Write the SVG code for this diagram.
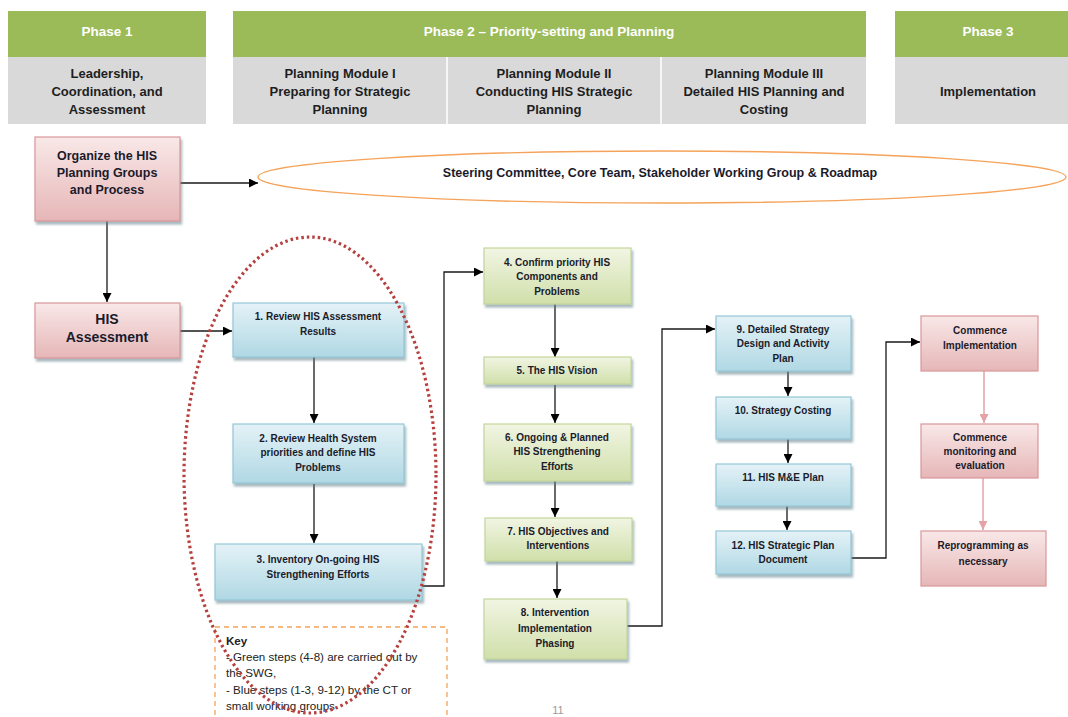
<svg xmlns="http://www.w3.org/2000/svg" width="1068" height="717" viewBox="0 0 1068 717">
<defs>
<linearGradient id="gBlue" x1="0" y1="0" x2="0" y2="1"><stop offset="0" stop-color="#e4f2f7"/><stop offset="1" stop-color="#b0d8e4"/></linearGradient>
<linearGradient id="gGreen" x1="0" y1="0" x2="0" y2="1"><stop offset="0" stop-color="#f1f5e3"/><stop offset="1" stop-color="#d0dfaa"/></linearGradient>
<linearGradient id="gPink" x1="0" y1="0" x2="0" y2="1"><stop offset="0" stop-color="#f9e8e8"/><stop offset="1" stop-color="#e6b6b7"/></linearGradient>
<filter id="sh" x="-10%" y="-10%" width="125%" height="135%"><feDropShadow dx="1.5" dy="3" stdDeviation="1" flood-color="#5f7f88" flood-opacity="0.55"/></filter>
<marker id="ah" viewBox="0 0 10 10" refX="10" refY="5" markerWidth="9" markerHeight="9" markerUnits="userSpaceOnUse" orient="auto"><path d="M0,0 L10,5 L0,10 z" fill="#000"/></marker>
<marker id="ahp" viewBox="0 0 10 10" refX="10" refY="5" markerWidth="9" markerHeight="9" markerUnits="userSpaceOnUse" orient="auto"><path d="M0,0 L10,5 L0,10 z" fill="#e3a3a6"/></marker>
<style>
.hg{fill:#9bbb59}
.hy{fill:#d9d9d9}
.ht{font-family:"Liberation Sans",Arial,sans-serif;font-weight:bold;font-size:13.5px;fill:#fff;text-anchor:middle}
.hs{font-family:"Liberation Sans",Arial,sans-serif;font-weight:bold;font-size:13px;fill:#1e1e1e;text-anchor:middle}
.blue{fill:url(#gBlue);stroke:#93c7d8;stroke-width:1.2;filter:url(#sh)}
.green{fill:url(#gGreen);stroke:#c3d69b;stroke-width:1.2;filter:url(#sh)}
.pink{fill:url(#gPink);stroke:#d9969a;stroke-width:1.2}
.pinks{fill:url(#gPink);stroke:#d9969a;stroke-width:1.2;filter:url(#sh)}
.t{font-family:"Liberation Sans",Arial,sans-serif;font-weight:bold;font-size:10px;fill:#1b1b2b;text-anchor:middle}
.tl{font-family:"Liberation Sans",Arial,sans-serif;font-weight:bold;font-size:12.5px;fill:#1b1b2b;text-anchor:middle}
.c{fill:none;stroke:#1a1a1a;stroke-width:1.3}
.cp{fill:none;stroke:#e3a3a6;stroke-width:1.5}
.k{font-family:"Liberation Sans",Arial,sans-serif;font-size:11.6px;fill:#222}
</style>
</defs>

<g id="header">
<rect class="hg" x="8" y="11" width="198" height="46"/>
<rect class="hy" x="8" y="57" width="198" height="67"/>
<text class="ht" x="107" y="36">Phase 1</text>
<text class="hs" x="107" y="78">Leadership,</text>
<text class="hs" x="107" y="96">Coordination, and</text>
<text class="hs" x="107" y="114">Assessment</text>

<rect class="hg" x="233" y="11" width="633" height="46"/>
<rect class="hy" x="233" y="57" width="633" height="67"/>
<line x1="447" y1="57" x2="447" y2="124" stroke="#fff" stroke-width="1.5"/>
<line x1="661" y1="57" x2="661" y2="124" stroke="#fff" stroke-width="1.5"/>
<text class="ht" x="549" y="36">Phase 2 – Priority-setting and Planning</text>
<text class="hs" x="340" y="78">Planning Module I</text>
<text class="hs" x="340" y="96">Preparing for Strategic</text>
<text class="hs" x="340" y="114">Planning</text>
<text class="hs" x="554" y="78">Planning Module II</text>
<text class="hs" x="554" y="96">Conducting HIS Strategic</text>
<text class="hs" x="554" y="114">Planning</text>
<text class="hs" x="764" y="78">Planning Module III</text>
<text class="hs" x="764" y="96">Detailed HIS Planning and</text>
<text class="hs" x="764" y="114">Costing</text>

<rect class="hg" x="895" y="11" width="175" height="46"/>
<rect class="hy" x="895" y="57" width="175" height="67"/>
<text class="ht" x="988" y="36">Phase 3</text>
<text class="hs" x="988" y="96">Implementation</text>
</g>

<g id="connectors">
<path class="c" d="M180,183 H258" marker-end="url(#ah)"/>
<path class="c" d="M107,221 V302" marker-end="url(#ah)"/>
<path class="c" d="M180,331 H232" marker-end="url(#ah)"/>
<path class="c" d="M314,357 V423" marker-end="url(#ah)"/>
<path class="c" d="M314,484 V543" marker-end="url(#ah)"/>
<path class="c" d="M422,586 H444 V272 H483" marker-end="url(#ah)"/>
<path class="c" d="M555,304 V357" marker-end="url(#ah)"/>
<path class="c" d="M555,385 V423" marker-end="url(#ah)"/>
<path class="c" d="M555,481 V517" marker-end="url(#ah)"/>
<path class="c" d="M557,561 V598" marker-end="url(#ah)"/>
<path class="c" d="M627,626 H662 V329 H715" marker-end="url(#ah)"/>
<path class="c" d="M788,371 V396" marker-end="url(#ah)"/>
<path class="c" d="M788,439 V463" marker-end="url(#ah)"/>
<path class="c" d="M787,506 V530" marker-end="url(#ah)"/>
<path class="c" d="M851,558 H886 V342 H920" marker-end="url(#ah)"/>
<path class="cp" d="M984,371 V423" marker-end="url(#ahp)"/>
<path class="cp" d="M983,478 V530" marker-end="url(#ahp)"/>
</g>

<g id="organize">
<rect class="pinks" x="35" y="137" width="145" height="84"/>
<text class="tl" x="107" y="160">Organize the HIS</text>
<text class="tl" x="107" y="177">Planning Groups</text>
<text class="tl" x="107" y="194">and Process</text>
</g>

<g id="steering">
<ellipse cx="662" cy="177" rx="404" ry="26" fill="none" stroke="#f5a35a" stroke-width="1.4"/>
<text class="tl" x="660" y="177">Steering Committee, Core Team, Stakeholder Working Group &amp; Roadmap</text>
</g>

<g id="assessment">
<rect class="pinks" x="35" y="303" width="145" height="55"/>
<text class="tl" x="107" y="324" style="font-size:14px">HIS</text>
<text class="tl" x="107" y="342" style="font-size:14px">Assessment</text>
</g>

<g id="s1"><rect class="blue" x="233" y="303" width="171" height="54"/>
<text class="t" x="318" y="320">1.  Review HIS Assessment</text>
<text class="t" x="318" y="335">Results</text></g>

<g id="s2"><rect class="blue" x="233" y="424" width="171" height="59"/>
<text class="t" x="318" y="442">2.  Review Health System</text>
<text class="t" x="318" y="456">priorities and define HIS</text>
<text class="t" x="318" y="471">Problems</text></g>

<g id="s3"><rect class="blue" x="215" y="544" width="207" height="56"/>
<text class="t" x="318" y="563">3.  Inventory On-going HIS</text>
<text class="t" x="318" y="578">Strengthening Efforts</text></g>

<g id="s4"><rect class="green" x="484" y="248" width="147" height="56"/>
<text class="t" x="557" y="266">4.  Confirm priority HIS</text>
<text class="t" x="557" y="280">Components and</text>
<text class="t" x="557" y="295">Problems</text></g>

<g id="s5"><rect class="green" x="484" y="357" width="147" height="27"/>
<text class="t" x="557" y="374">5.  The HIS Vision</text></g>

<g id="s6"><rect class="green" x="484" y="424" width="147" height="57"/>
<text class="t" x="557" y="441">6.  Ongoing &amp; Planned</text>
<text class="t" x="557" y="455">HIS Strengthening</text>
<text class="t" x="557" y="470">Efforts</text></g>

<g id="s7"><rect class="green" x="485" y="518" width="147" height="43"/>
<text class="t" x="558" y="535">7.  HIS Objectives and</text>
<text class="t" x="558" y="549">Interventions</text></g>

<g id="s8"><rect class="green" x="484" y="599" width="143" height="60"/>
<text class="t" x="555" y="616">8.  Intervention</text>
<text class="t" x="555" y="632">Implementation</text>
<text class="t" x="555" y="647">Phasing</text></g>

<g id="s9"><rect class="blue" x="716" y="316" width="135" height="55"/>
<text class="t" x="783" y="333">9.  Detailed Strategy</text>
<text class="t" x="783" y="347">Design and Activity</text>
<text class="t" x="783" y="362">Plan</text></g>

<g id="s10"><rect class="blue" x="716" y="397" width="135" height="42"/>
<text class="t" x="783" y="414">10.  Strategy Costing</text></g>

<g id="s11"><rect class="blue" x="716" y="464" width="135" height="42"/>
<text class="t" x="783" y="481">11.  HIS M&amp;E Plan</text></g>

<g id="s12"><rect class="blue" x="716" y="531" width="135" height="43"/>
<text class="t" x="783" y="549">12.  HIS Strategic Plan</text>
<text class="t" x="783" y="563">Document</text></g>

<g id="impl"><rect class="pink" x="921" y="316" width="117" height="55"/>
<text class="t" x="980" y="334">Commence</text>
<text class="t" x="980" y="349">Implementation</text></g>

<g id="mon"><rect class="pink" x="921" y="424" width="117" height="54"/>
<text class="t" x="980" y="441">Commence</text>
<text class="t" x="980" y="455">monitoring and</text>
<text class="t" x="980" y="469">evaluation</text></g>

<g id="reprog"><rect class="pink" x="921" y="531" width="125" height="55"/>
<text class="t" x="983" y="549">Reprogramming as</text>
<text class="t" x="983" y="565">necessary</text></g>

<g id="key">
<rect x="215" y="627" width="232" height="100" fill="none" stroke="#f5a35a" stroke-width="1.3" stroke-dasharray="5,4"/>
<text class="k" x="226" y="645" style="font-weight:bold">Key</text>
<text class="k" x="226" y="661">- Green steps (4-8) are carried out by</text>
<text class="k" x="226" y="677">the SWG,</text>
<text class="k" x="226" y="694">- Blue steps (1-3, 9-12) by the CT or</text>
<text class="k" x="226" y="710">small working groups</text>
</g>

<g id="grouping">
<ellipse cx="310" cy="475" rx="126" ry="238" fill="none" stroke="#b5403e" stroke-width="3.2" stroke-dasharray="2.5,3"/>
</g>

<text x="558" y="714" font-family="'Liberation Sans',Arial,sans-serif" font-size="11" fill="#999" text-anchor="middle">11</text>
</svg>
